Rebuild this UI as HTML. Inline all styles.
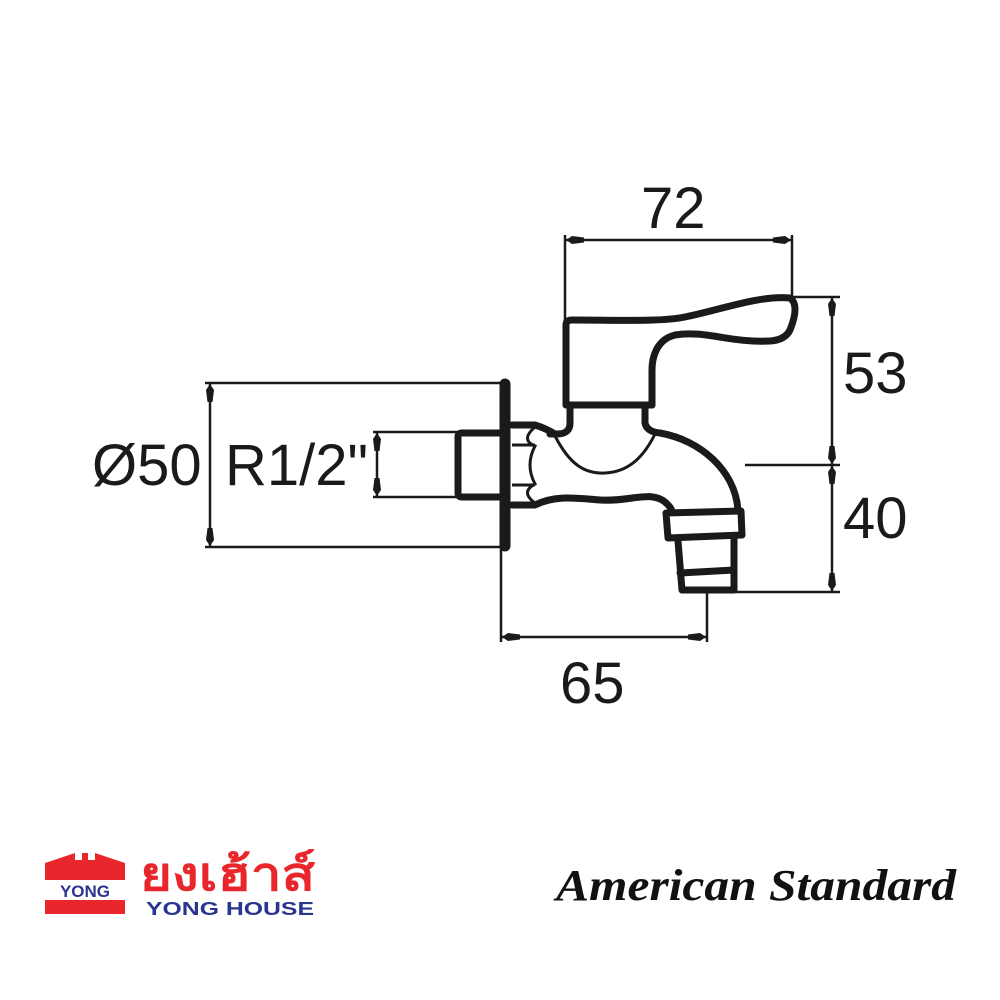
<!DOCTYPE html>
<html><head><style>
html,body{margin:0;padding:0;background:#fff;width:1000px;height:1000px;overflow:hidden}
svg{display:block}
</style></head><body>
<svg width="1000" height="1000" viewBox="0 0 1000 1000" xmlns="http://www.w3.org/2000/svg">
<defs>
<marker id="a" viewBox="0 0 18 10" refX="18" refY="5" markerWidth="18" markerHeight="10" markerUnits="userSpaceOnUse" orient="auto-start-reverse">
<path d="M18,5 L12,1 L0,2.5 L0,7.5 L12,9 Z" fill="#1a1a1a"/>
</marker>
</defs>
<g stroke="#1a1a1a" stroke-width="2.5" fill="none">
<line x1="205" y1="383" x2="502" y2="383"/>
<line x1="205" y1="547" x2="502" y2="547"/>
<line x1="373" y1="432" x2="460" y2="432"/>
<line x1="373" y1="497" x2="460" y2="497"/>
<line x1="565" y1="235" x2="565" y2="322"/>
<line x1="792" y1="235" x2="792" y2="298"/>
<line x1="792" y1="297" x2="840" y2="297"/>
<line x1="745" y1="465" x2="840" y2="465"/>
<line x1="735" y1="592" x2="840" y2="592"/>
<line x1="501" y1="548" x2="501" y2="642"/>
<line x1="707" y1="592" x2="707" y2="642"/>
<line x1="210" y1="384" x2="210" y2="546" marker-start="url(#a)" marker-end="url(#a)"/>
<line x1="377" y1="433" x2="377" y2="496" marker-start="url(#a)" marker-end="url(#a)"/>
<line x1="566" y1="240" x2="791" y2="240" marker-start="url(#a)" marker-end="url(#a)"/>
<line x1="832" y1="298" x2="832" y2="464" marker-start="url(#a)" marker-end="url(#a)"/>
<line x1="832" y1="466" x2="832" y2="591" marker-start="url(#a)" marker-end="url(#a)"/>
<line x1="502" y1="637" x2="706" y2="637" marker-start="url(#a)" marker-end="url(#a)"/>
</g>
<g stroke="#1a1a1a" stroke-width="7" fill="none" stroke-linejoin="round" stroke-linecap="round">
<line x1="505" y1="384" x2="505" y2="546" stroke-width="11"/>
<path d="M500,433 L462,433 Q458,433 458,437 L458,493 Q458,497 462,497 L500,497"/>
<path d="M566,405 L566,325 Q566,320 572,320 C620,320 660,322 685,317 C720,310 760,295 790,298 Q800,305 790,330 Q785,340 770,341 C730,343 705,330 675,335 C655,340 652,360 652,370 L652,405"/>
<line x1="566" y1="405" x2="652" y2="405"/>
<path d="M570,408 L570,423 Q570,434 557,434 L550,434"/>
<path d="M645,408 L645,423 Q647,432 660,433 C700,440 735,470 738,510"/>
<path d="M512,425 L535,425 Q545,428 555,434"/>
<path d="M512,505 L535,505 C555,495 575,498 600,500 C630,502 650,490 665,502 Q672,508 672,512"/>
<path d="M666,513 L741,511 L742,535 L668,538 Z"/>
<path d="M678,541 L682,590 L734,590 L734,539"/>
<line x1="680" y1="573" x2="734" y2="570"/>
</g>
<g stroke="#1a1a1a" stroke-width="3" fill="none">
<path d="M555,436 C570,465 585,474 605,473 C630,472 645,455 656,432"/>
<path d="M535,427 Q520,440 535,446 Q525,465 535,484 Q520,492 535,503"/>
<line x1="512" y1="445" x2="535" y2="445"/>
<line x1="512" y1="485" x2="535" y2="485"/>
</g>
<g font-family="Liberation Sans, sans-serif" font-size="58" fill="#1a1a1a">
<text x="92" y="485">Ø50</text>
<text x="225" y="485">R1/2"</text>
<text x="641" y="228">72</text>
<text x="843" y="393">53</text>
<text x="843" y="538">40</text>
<text x="560" y="703">65</text>
</g>
<path d="M45,880 L45,863 L75,853 L75,860 L82,860 L82,853 L88,853 L88,860 L95,860 L95,853 L125,863 L125,880 Z" fill="#e8262b"/>
<rect x="45" y="900" width="80" height="14" fill="#e8262b"/>
<text x="85" y="897" font-family="Liberation Sans, sans-serif" font-weight="bold" font-size="17" fill="#2a3590" text-anchor="middle">YONG</text>
<text x="140" y="890" font-family="Liberation Sans, 'Noto Sans CJK SC', sans-serif" font-weight="bold" font-size="46" fill="#e8262b" textLength="175" lengthAdjust="spacingAndGlyphs">ยงเฮ้าส์</text>
<text x="146" y="915" font-family="Liberation Sans, sans-serif" font-weight="bold" font-size="18" fill="#2a3590" textLength="168" lengthAdjust="spacingAndGlyphs">YONG HOUSE</text>
<text x="556" y="900" font-family="Liberation Serif, serif" font-style="italic" font-weight="bold" font-size="44" fill="#111" textLength="400" lengthAdjust="spacingAndGlyphs">American Standard</text>
</svg>
</body></html>
